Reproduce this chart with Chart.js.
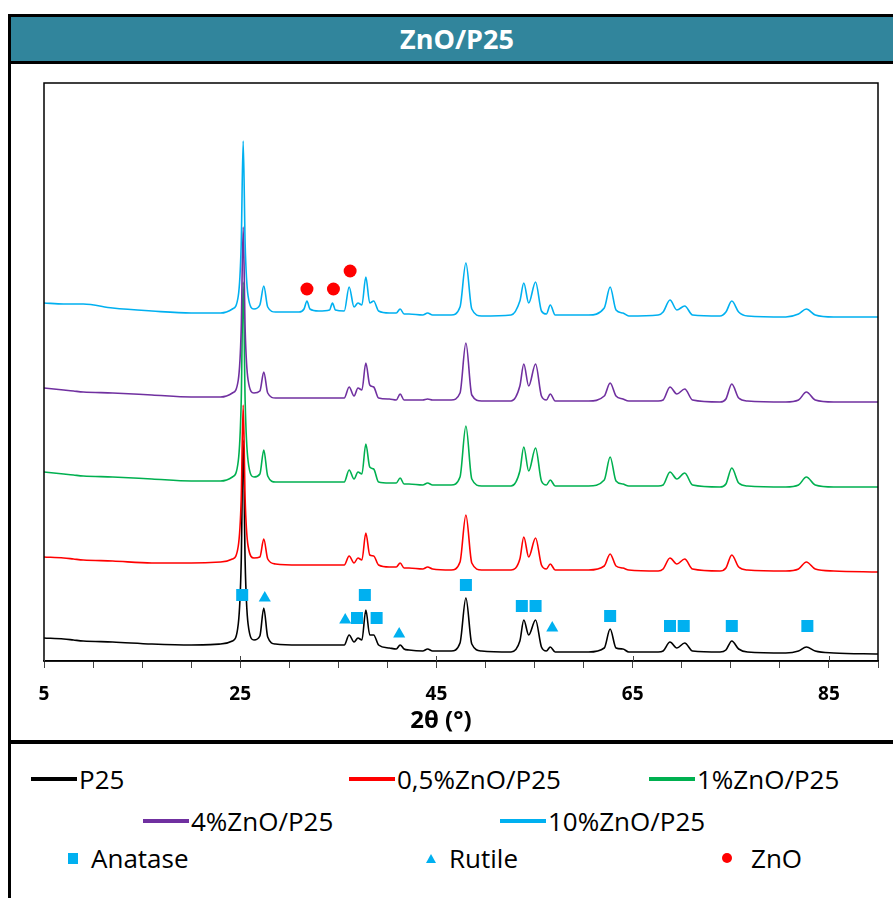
<!DOCTYPE html>
<html>
<head>
<meta charset="utf-8">
<title>ZnO/P25</title>
<script src="https://cdn.jsdelivr.net/npm/chart.js@4.4.0/dist/chart.umd.min.js"></script>
<style>
  html, body { margin: 0; padding: 0; background: #fff; }
  body { width: 893px; height: 898px; position: relative; overflow: hidden; font-family: "Open Sans", sans-serif; }
  #frameLeft { position: absolute; left: 8px; top: 14px; width: 3px; height: 884px; background: #000; }
  #titleBand { position: absolute; left: 8px; top: 14px; width: 898px; height: 44px; background: #31859C;
    border-top: 3px solid #000; border-bottom: 3px solid #000; color: #fff; font-weight: bold;
    font-size: 27px; line-height: 44px; text-align: center; }
  #sep { position: absolute; left: 8px; top: 740px; width: 890px; height: 4px; background: #000; }
  #chartBox { position: absolute; left: 11px; top: 64px; width: 882px; height: 676px; }
  #xTitle { position: absolute; left: 341px; top: 703px; width: 200px; text-align: center;
    font-weight: bold; font-size: 24px; line-height: 32px; color: #000; }
  .leg { position: absolute; display: flex; align-items: center; height: 30px; font-size: 26px;
    line-height: 30px; color: #000; white-space: nowrap; }
  .leg .ln { width: 46px; height: 4px; margin-right: 2px; }
  .mk { position: absolute; }
</style>
</head>
<body>
<div id="titleBand">ZnO/P25</div>
<div id="frameLeft"></div>
<div id="chartBox"><canvas id="xrdChart"></canvas></div>
<div id="xTitle">2θ (°)</div>
<div id="sep"></div>
<div id="legend"></div>

<script>
// 2θ (°) grid shared by the five patterns
const twoTheta = [5, 7, 8, 9, 12, 16, 20, 23, 24.2, 24.8,
  25.1, 25.3, 25.5, 25.8, 26.4, 27.0, 27.4, 27.8, 28.6, 31.0,
  31.5, 31.8, 32.1, 33.0, 34.1, 34.4, 34.7, 35.6, 36.1, 36.6,
  37.0, 37.4, 37.8, 38.2, 38.6, 39.1, 40.2, 40.9, 41.3, 41.7,
  42.2, 43.6, 44.1, 44.6, 46.5, 47.4, 48.0, 48.6, 49.6, 52.6,
  53.5, 53.9, 54.4, 55.1, 55.7, 56.2, 56.6, 57.1, 60.5, 62.1,
  62.7, 63.3, 64.0, 64.6, 67.6, 68.1, 68.8, 69.5, 70.3, 71.1,
  73.9, 74.5, 75.1, 75.8, 76.7, 80.6, 81.9, 82.7, 83.6, 85.5,
  90];

// intensités (u.a., courbes décalées)
const p25 = [23, 22, 21, 20, 19, 17, 16, 17, 20, 37,
  99, 221, 99, 37, 21, 25, 53, 24, 17, 16,
  16, 16, 16, 16, 16, 16, 16, 16, 26, 19,
  23, 21, 51, 26, 26, 16, 13, 12, 16, 12,
  11, 10, 12, 10, 10, 18, 63, 17, 10, 9,
  20, 41, 26, 41, 14, 10, 14, 9, 9, 13,
  32, 13, 12, 9, 9, 10, 19, 13, 18, 10,
  9, 11, 20, 12, 9, 8, 10, 14, 10, 8,
  7];

const zno05 = [104, 103, 102, 101, 100, 98, 98, 99, 102, 115,
  162, 256, 162, 115, 103, 104, 122, 102, 97, 96,
  96, 96, 96, 96, 96, 96, 96, 96, 105, 98,
  103, 101, 128, 106, 105, 96, 94, 94, 98, 93,
  93, 92, 94, 92, 91, 99, 146, 98, 91, 91,
  102, 124, 104, 123, 96, 92, 97, 91, 91, 95,
  107, 95, 93, 91, 90, 92, 103, 97, 102, 92,
  90, 93, 106, 94, 91, 90, 92, 99, 92, 90,
  89];

const zno1 = [189, 187, 186, 185, 184, 182, 180, 180, 184, 200,
  260, 379, 260, 200, 184, 187, 211, 185, 179, 179,
  179, 179, 179, 179, 179, 179, 179, 179, 191, 182,
  189, 187, 217, 194, 192, 179, 178, 178, 183, 177,
  177, 176, 178, 176, 176, 184, 235, 182, 175, 175,
  190, 214, 190, 213, 180, 176, 181, 175, 175, 181,
  204, 180, 177, 175, 175, 176, 189, 182, 188, 176,
  174, 177, 193, 178, 175, 174, 176, 184, 176, 174,
  174];

const zno4 = [273, 271, 270, 269, 268, 266, 264, 264, 268, 281,
  332, 434, 332, 281, 268, 270, 289, 268, 263, 263,
  263, 263, 263, 263, 263, 263, 263, 263, 274, 265,
  273, 271, 298, 276, 274, 263, 262, 261, 267, 261,
  261, 261, 262, 261, 261, 268, 318, 266, 260, 260,
  275, 297, 275, 297, 265, 261, 267, 260, 260, 265,
  278, 265, 262, 260, 260, 261, 274, 267, 272, 261,
  259, 262, 277, 263, 260, 259, 261, 269, 261, 259,
  259];

const zno10 = [358, 357, 357, 357, 353, 350, 348, 348, 352, 365,
  417, 520, 417, 365, 352, 356, 375, 354, 349, 349,
  352, 360, 352, 350, 351, 358, 351, 350, 374, 354,
  358, 356, 384, 358, 360, 350, 348, 348, 352, 347,
  347, 346, 348, 346, 346, 354, 398, 352, 345, 346,
  360, 378, 358, 379, 350, 347, 356, 346, 346, 353,
  374, 351, 348, 345, 346, 349, 361, 351, 355, 346,
  345, 349, 360, 349, 345, 344, 347, 352, 346, 344,
  344];

const seriesNames = ['P25', '0,5%ZnO/P25', '1%ZnO/P25', '4%ZnO/P25', '10%ZnO/P25'];
const seriesColors = ['#000000', '#FF0000', '#00B050', '#7030A0', '#00B0F0'];
const seriesValues = [p25, zno05, zno1, zno4, zno10];

// repères de phases
const anataseX = [25.2, 36.9, 37.7, 38.9, 48.0, 53.7, 55.1, 62.7, 68.8, 70.2, 75.1, 82.8];
const anataseY = [66, 43, 66, 43, 76, 55, 55, 45, 35, 35, 35, 35];
const rutileX = [27.5, 35.7, 41.2, 56.8];
const rutileY = [63, 41, 27, 33];
const znoX = [31.8, 34.5, 36.2];
const znoY = [372, 372, 390];

const xMin = 5, xMax = 90, xStep = 5;
const xTickLabels = [5, 25, 45, 65, 85];

const toPoints = (xs, ys) => xs.map((x, i) => ({ x: x, y: ys[i] }));

const datasets = [];
seriesValues.forEach((vals, i) => {
  datasets.push({
    label: seriesNames[i],
    data: toPoints(twoTheta, vals),
    borderColor: seriesColors[i],
    backgroundColor: seriesColors[i],
    borderWidth: 1.6,
    pointRadius: 0,
    cubicInterpolationMode: 'monotone',
    fill: false,
    order: 5 - i   // P25 dessous, 10% dessus
  });
});
datasets.push({ label: 'Anatase', data: toPoints(anataseX, anataseY), showLine: false,
  pointStyle: 'rect', pointRadius: 8.5, backgroundColor: '#00B0F0', borderWidth: 0, order: 0 });
datasets.push({ label: 'Rutile', data: toPoints(rutileX, rutileY), showLine: false,
  pointStyle: 'triangle', pointRadius: 7, backgroundColor: '#00B0F0', borderWidth: 0, order: 0 });
datasets.push({ label: 'ZnO', data: toPoints(znoX, znoY), showLine: false,
  pointStyle: 'circle', pointRadius: 6.5, backgroundColor: '#FF0000', borderWidth: 0, order: 0 });

// cadre de la zone de tracé + graduations principales qui traversent l'axe
const plotFrame = {
  id: 'plotFrame',
  afterDraw(chart) {
    const { ctx, chartArea: a, scales } = chart;
    ctx.save();
    ctx.strokeStyle = '#000';
    ctx.lineWidth = 1.5;
    ctx.strokeRect(a.left, a.top, a.right - a.left, a.bottom - a.top);
    ctx.lineWidth = 1;
    ctx.strokeStyle = '#444';
    xTickLabels.forEach(v => {
      const px = Math.round(scales.x.getPixelForValue(v)) + 0.5;
      ctx.beginPath();
      ctx.moveTo(px, a.bottom - 5);
      ctx.lineTo(px, a.bottom);
      ctx.stroke();
    });
    ctx.restore();
  }
};

new Chart(document.getElementById('xrdChart'), {
  type: 'line',
  data: { datasets: datasets },
  options: {
    responsive: true,
    maintainAspectRatio: false,
    animation: false,
    layout: { padding: { left: 33, top: 19, right: 13, bottom: 0 } },
    plugins: { legend: { display: false }, tooltip: { enabled: false }, title: { display: false } },
    scales: {
      x: {
        type: 'linear',
        min: xMin,
        max: xMax,
        afterFit: (scale) => { scale.height = 79; },
        border: { display: true, color: '#000', width: 1.5 },
        grid: { display: true, drawOnChartArea: false, drawTicks: true, tickLength: 7, tickColor: '#444', tickWidth: 1 },
        ticks: {
          stepSize: xStep,
          autoSkip: false,
          maxRotation: 0,
          padding: 15,
          color: '#000',
          font: { family: 'Open Sans', size: 19, weight: 'bold' },
          callback: (v) => xTickLabels.includes(v) ? String(v) : ''
        }
      },
      y: { type: 'linear', min: 0, max: 578, display: false }
    }
  },
  plugins: [plotFrame]
});

// légende en HTML (disposition Excel)
const legend = document.getElementById('legend');
const linePos = [[31, 779], [349, 779], [649, 779], [143, 821], [500, 821]];
seriesNames.forEach((name, i) => {
  const el = document.createElement('div');
  el.className = 'leg';
  el.style.left = linePos[i][0] + 'px';
  el.style.top = (linePos[i][1] - 15) + 'px';
  el.innerHTML = '<span class="ln" style="background:' + seriesColors[i] + '"></span><span>' + name + '</span>';
  legend.appendChild(el);
});

const markerLegend = [
  { name: 'Anatase', cx: 73, tx: 91, css: 'width:10px;height:11px;background:#00B0F0;', w: 10, h: 11 },
  { name: 'Rutile', cx: 431, tx: 449, css: 'width:0;height:0;border-left:5px solid transparent;border-right:5px solid transparent;border-bottom:9px solid #00B0F0;', w: 10, h: 9 },
  { name: 'ZnO', cx: 727, tx: 751, css: 'width:10px;height:10px;border-radius:50%;background:#FF0000;', w: 10, h: 10 }
];
markerLegend.forEach(m => {
  const mk = document.createElement('div');
  mk.className = 'mk';
  mk.style.cssText = m.css + 'position:absolute;left:' + (m.cx - m.w / 2) + 'px;top:' + (858 - m.h / 2) + 'px;';
  legend.appendChild(mk);
  const t = document.createElement('div');
  t.className = 'leg';
  t.style.left = m.tx + 'px';
  t.style.top = (858 - 15) + 'px';
  t.textContent = m.name;
  legend.appendChild(t);
});
</script>
</body>
</html>
